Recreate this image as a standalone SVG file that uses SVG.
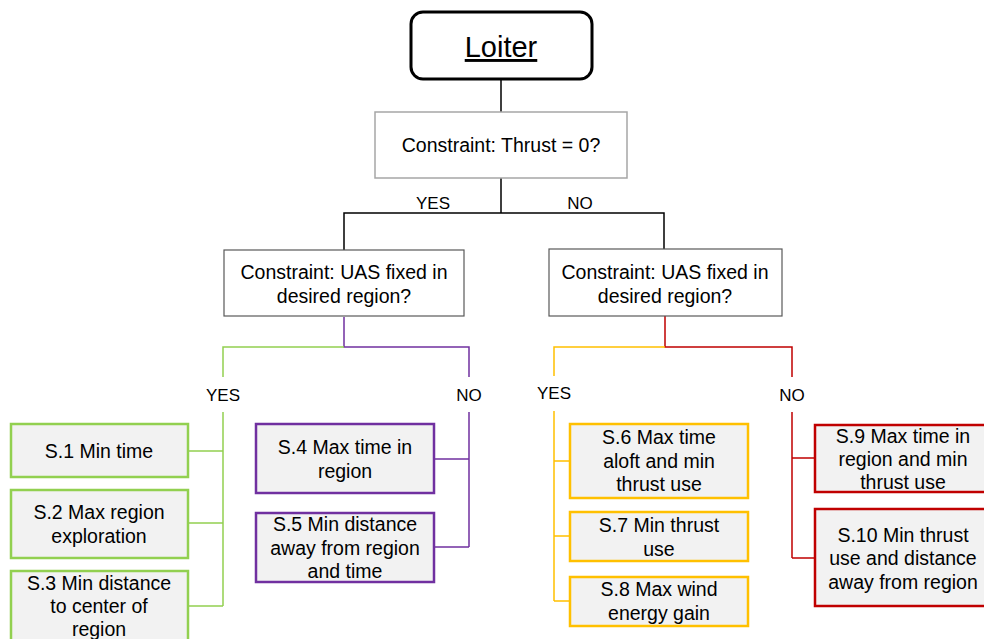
<svg xmlns="http://www.w3.org/2000/svg" width="984" height="639" viewBox="0 0 984 639">
<style>
text{font-family:"Liberation Sans",Arial,sans-serif;fill:#000;text-anchor:middle}
.t{font-size:19.5px}
.lab{font-size:17px}
.q{fill:#fff;stroke:#595959;stroke-width:1.2}
.q0{fill:#fff;stroke:#a6a6a6;stroke-width:1.5}
.s{fill:#f2f2f2;stroke-width:2.5}
.g{stroke:#92d050}.p{stroke:#7030a0}.y{stroke:#ffc000}.r{stroke:#c00000}
.c{fill:none;stroke-width:1.5}
.k{stroke:#000}
</style>
<g id="connectors">
<path class="c k" d="M501 80V112M501 178V213M344 250V213H664V250"/>
<path class="c p" d="M344 317V347H469V377M469 412V547M434 459H469M434 547H469"/>
<path class="c g" d="M344 347H223V377M223 412V606M188 451H223M188 523H223M188 606H223"/>
<path class="c r" d="M665 316V347H792V377M792 412V558M815 458H792M815 558H792"/>
<path class="c y" d="M665 347H554V376M554 411V601M570 461H554M570 536H554M570 601H554"/>
</g>
<g id="labels">
<text class="lab" x="433" y="209">YES</text>
<text class="lab" x="580" y="209">NO</text>
<text class="lab" x="223" y="401">YES</text>
<text class="lab" x="469" y="401">NO</text>
<text class="lab" x="554" y="399">YES</text>
<text class="lab" x="792" y="401">NO</text>
</g>
<g id="loiter"><rect x="411" y="12" width="181" height="67" rx="12" fill="#fff" stroke="#000" stroke-width="3"/><text x="501" y="57" font-size="29" text-decoration="underline">Loiter</text></g>
<g id="thrust"><rect class="q0" x="375" y="112" width="252" height="66"/><text class="t" x="501" y="152">Constraint: Thrust = 0?</text></g>
<g id="uas-left"><rect class="q" x="224" y="250" width="240" height="66"/><text class="t" x="344" y="279">Constraint: UAS fixed in</text><text class="t" x="344" y="303">desired region?</text></g>
<g id="uas-right"><rect class="q" x="549" y="249" width="233" height="67"/><text class="t" x="665" y="279">Constraint: UAS fixed in</text><text class="t" x="665" y="303">desired region?</text></g>
<g id="s1"><rect class="s g" x="11" y="424" width="177" height="53"/><text class="t" x="99" y="458">S.1 Min time</text></g>
<g id="s2"><rect class="s g" x="11" y="490" width="177" height="68"/><text class="t" x="99" y="519">S.2 Max region</text><text class="t" x="99" y="543">exploration</text></g>
<g id="s3"><rect class="s g" x="11" y="571" width="177" height="80"/><text class="t" x="99" y="590">S.3 Min distance</text><text class="t" x="99" y="613">to center of</text><text class="t" x="99" y="636">region</text></g>
<g id="s4"><rect class="s p" x="256" y="424" width="178" height="69"/><text class="t" x="345" y="454">S.4 Max time in</text><text class="t" x="345" y="478">region</text></g>
<g id="s5"><rect class="s p" x="256" y="513" width="178" height="69"/><text class="t" x="345" y="531">S.5 Min distance</text><text class="t" x="345" y="555">away from region</text><text class="t" x="345" y="578">and time</text></g>
<g id="s6"><rect class="s y" x="570" y="424" width="178" height="74"/><text class="t" x="659" y="444">S.6 Max time</text><text class="t" x="659" y="468">aloft and min</text><text class="t" x="659" y="491">thrust use</text></g>
<g id="s7"><rect class="s y" x="570" y="512" width="178" height="49"/><text class="t" x="659" y="532">S.7 Min thrust</text><text class="t" x="659" y="556">use</text></g>
<g id="s8"><rect class="s y" x="570" y="577" width="178" height="49"/><text class="t" x="659" y="596">S.8 Max wind</text><text class="t" x="659" y="620">energy gain</text></g>
<g id="s9"><rect class="s r" x="815" y="425" width="177" height="67"/><text class="t" x="903" y="443">S.9 Max time in</text><text class="t" x="903" y="466">region and min</text><text class="t" x="903" y="489">thrust use</text></g>
<g id="s10"><rect class="s r" x="815" y="509" width="177" height="97"/><text class="t" x="903" y="542">S.10 Min thrust</text><text class="t" x="903" y="565">use and distance</text><text class="t" x="903" y="589">away from region</text></g>
</svg>
